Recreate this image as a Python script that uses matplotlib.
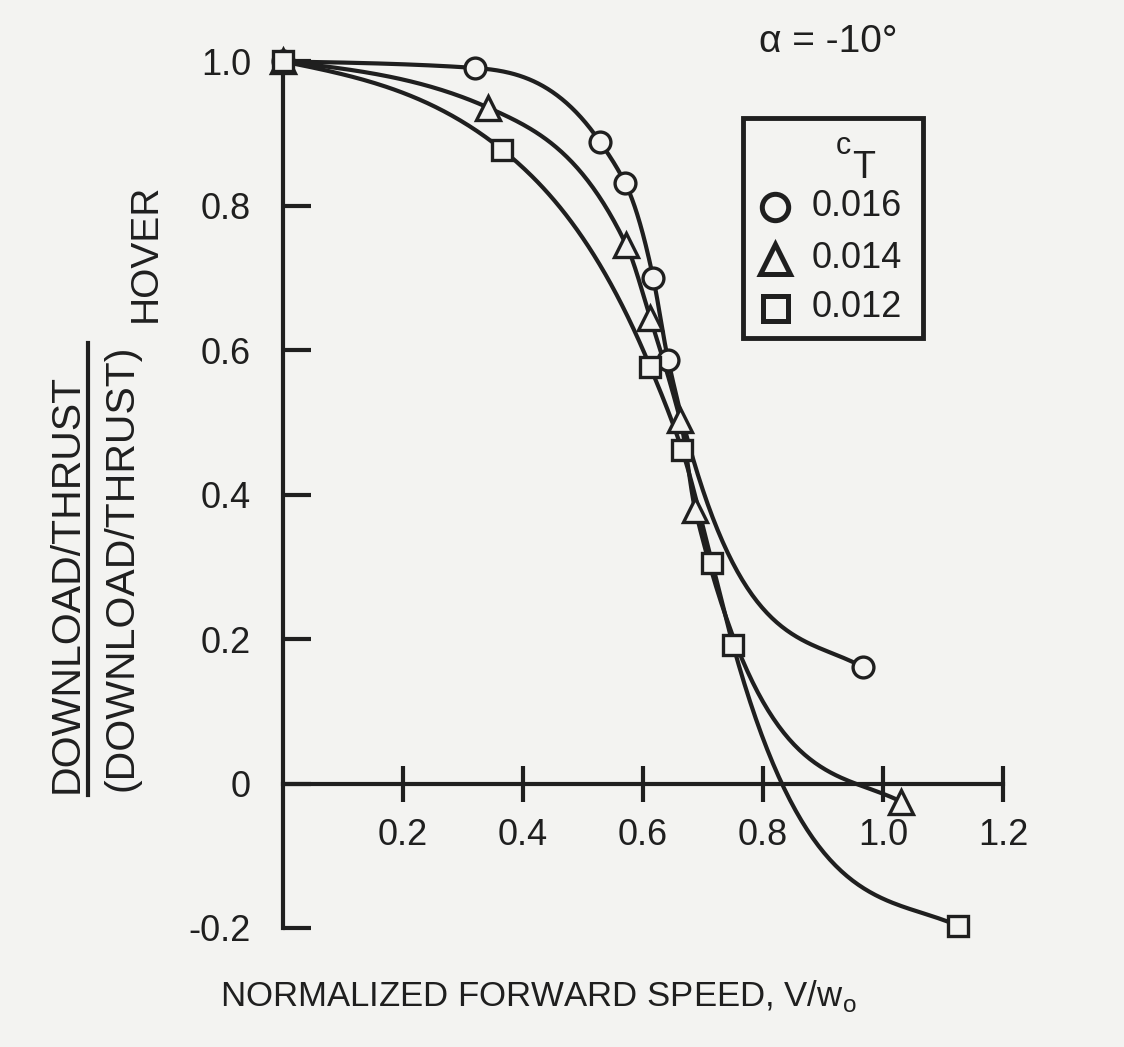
import numpy as np
import matplotlib.pyplot as plt
from matplotlib.lines import Line2D
from matplotlib.patches import Rectangle

plt.rcParams['font.family'] = ['Liberation Sans', 'DejaVu Sans']
plt.rcParams['mathtext.fontset'] = 'custom'
plt.rcParams['mathtext.rm'] = 'Liberation Sans'

# download/thrust ratio vs normalized forward speed, alpha = -10 deg
ct_labels = ['0.016', '0.014', '0.012']

v_016 = [0.0, 0.320, 0.528, 0.570, 0.617, 0.642, 0.967]
r_016 = [1.0, 0.991, 0.889, 0.832, 0.700, 0.586, 0.161]

v_014 = [0.0, 0.342, 0.572, 0.612, 0.662, 0.687, 1.030]
r_014 = [1.0, 0.936, 0.746, 0.645, 0.504, 0.379, -0.025]

v_012 = [0.0, 0.365, 0.612, 0.665, 0.715, 0.750, 1.125]
r_012 = [1.0, 0.878, 0.577, 0.462, 0.306, 0.192, -0.197]

xticks = [0.2, 0.4, 0.6, 0.8, 1.0, 1.2]
yticks = [-0.2, 0.0, 0.2, 0.4, 0.6, 0.8, 1.0]
ytick_labels = ['-0.2', '0', '0.2', '0.4', '0.6', '0.8', '1.0']

ink = '#1f1f1f'
paper = '#f3f3f1'
W, H = 1124, 1047


def faired(x, y, n=80, tail=0.35):
    # hermite curve through the points; tangents limited so a segment
    # never bends back the wrong way (keeps the faired look)
    x = np.asarray(x, float)
    y = np.asarray(y, float)
    h = np.diff(x)
    d = np.diff(y) / h
    m = np.empty_like(x)
    m[0] = 0.5 * d[0]
    m[-1] = tail * d[-1]
    m[1:-1] = (h[1:] * d[:-1] + h[:-1] * d[1:]) / (h[:-1] + h[1:])
    for i in range(len(h)):
        if d[i] == 0:
            m[i] = m[i + 1] = 0
            continue
        a = m[i] / d[i]
        b = m[i + 1] / d[i]
        if a <= 1 < b:
            m[i + 1] = d[i] * min(b, 3 - 2 * a)
        elif b < 1 < a:
            m[i] = d[i] * min(a, 3.6 - 2 * b)
    xs, ys = [], []
    t = np.linspace(0, 1, n)
    h00 = 2 * t**3 - 3 * t**2 + 1
    h10 = t**3 - 2 * t**2 + t
    h01 = -2 * t**3 + 3 * t**2
    h11 = t**3 - t**2
    for i in range(len(h)):
        xs.append(x[i] + t * h[i])
        ys.append(h00 * y[i] + h10 * h[i] * m[i] + h01 * y[i + 1] + h11 * h[i] * m[i + 1])
    return np.concatenate(xs), np.concatenate(ys)


def fx(px):
    return px / W


def fy(py):
    return 1 - py / H


fig = plt.figure(figsize=(W / 100, H / 100), dpi=100, facecolor=paper)
ax = fig.add_axes([0.2518, 0.1137, 0.6406, 0.8276])
ax.set_facecolor(paper)

series = [(v_016, r_016, 'o', 15), (v_014, r_014, '^', 17), (v_012, r_012, 's', 14)]
for vx, ry, mk, ms in series:
    cx, cy = faired(vx, ry)
    ax.plot(cx, cy, color=ink, lw=3, clip_on=False, zorder=3)
    ax.plot(vx, ry, ls='none', marker=mk, ms=ms, mfc=paper, mec=ink, mew=2.4,
            clip_on=False, zorder=4)

ax.set_xlim(0, 1.2)
ax.set_ylim(-0.2, 1.0)
ax.spines['bottom'].set_position(('data', 0))
ax.spines['top'].set_visible(False)
ax.spines['right'].set_visible(False)
for s in ('left', 'bottom'):
    ax.spines[s].set_linewidth(3)
    ax.spines[s].set_color(ink)

ax.set_xticks(xticks)
ax.set_xticklabels(['%.1f' % v for v in xticks])
ax.set_yticks(yticks)
ax.set_yticklabels(ytick_labels)
ax.tick_params(axis='x', direction='inout', length=26, width=3, pad=12,
               labelsize=26, colors=ink)
ax.tick_params(axis='y', direction='in', length=20, width=3, pad=23,
               labelsize=26, colors=ink)

ax.set_xlabel('NORMALIZED FORWARD SPEED, V/w$_\\mathregular{o}$', fontsize=25,
              color=ink)
ax.xaxis.set_label_coords(0.354, -0.058)

# y label written as a fraction
fig.text(0.0596, fy(583), 'DOWNLOAD/THRUST', rotation=90, fontsize=29.5,
         color=ink, ha='center', va='center')
fig.text(0.1077, fy(568), '(DOWNLOAD/THRUST)', rotation=90, fontsize=29.5,
         color=ink, ha='center', va='center')
fig.text(fx(146), fy(253), 'HOVER', rotation=90, fontsize=28, color=ink,
         ha='center', va='center')
fig.add_artist(Line2D([fx(88), fx(88)], [fy(795), fy(343)],
                      transform=fig.transFigure, color=ink, lw=3))

fig.text(fx(828), fy(42), 'α = -10°', fontsize=28, color=ink,
         ha='center', va='center')

# C_T key box
fig.add_artist(Rectangle((fx(743), fy(338)), fx(923) - fx(743), fy(118) - fy(338),
                         transform=fig.transFigure, facecolor=paper,
                         edgecolor=ink, lw=3.5, zorder=5))
fig.text(fx(843), fy(146), 'c', fontsize=22, color=ink, ha='center',
         va='center', zorder=6)
fig.text(fx(864), fy(168), 'T', fontsize=27, color=ink, ha='center',
         va='center', zorder=6)
row_y = [207, 259, 308]
for (vx, ry, mk, ms), lab, yy in zip(series, ct_labels, row_y):
    fig.add_artist(Line2D([fx(775)], [fy(yy)], transform=fig.transFigure,
                          ls='none', marker=mk, ms=ms + 4, mfc=paper, mec=ink,
                          mew=3.6, zorder=6))
    fig.text(fx(812), fy(yy), lab, fontsize=26, color=ink, ha='left',
             va='center', zorder=6)

fig.savefig('out.png', dpi=100, facecolor=paper)
